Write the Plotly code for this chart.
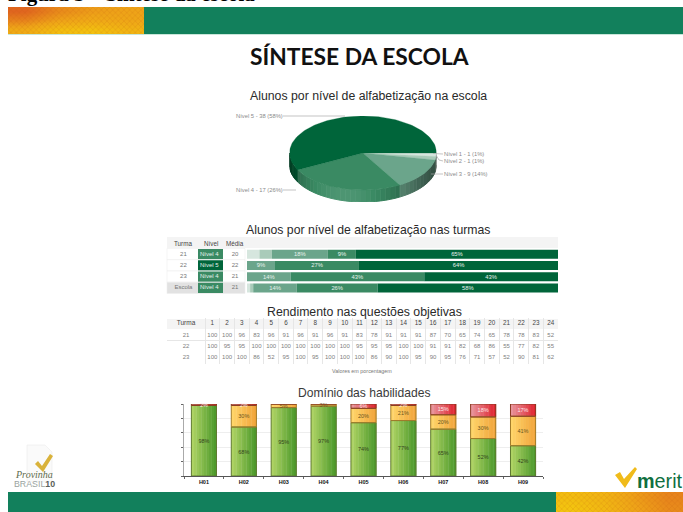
import math
import plotly.graph_objects as go

W, H = 683, 512

# ---- data ----
pie_labels = ["Nível 1", "Nível 2", "Nível 3", "Nível 4", "Nível 5"]
pie_values = [1, 1, 9, 17, 38]
pie_percent = [1, 1, 14, 26, 58]
level_colors = ["#d6e6de", "#a9cbb9", "#6ba58b", "#3a8a63", "#00653a"]

class_rows = ["21", "22", "23", "Escola"]
class_level = ["Nível 4", "Nível 5", "Nível 4", "Nível 4"]
class_mean = ["20", "22", "21", "21"]
class_headers = ["Turma", "Nível", "Média"]
level1_pct = [4, 0, 0, 1]
level2_pct = [4, 0, 0, 1]
level3_pct = [18, 9, 14, 14]
level4_pct = [9, 27, 43, 26]
level5_pct = [65, 64, 43, 58]

question_numbers = list(range(1, 25))
score_turmas = ["21", "22", "23"]
scores_21 = [100, 100, 96, 83, 96, 91, 96, 91, 96, 91, 83, 78, 91, 91, 91, 87, 70, 65, 74, 65, 78, 78, 83, 52]
scores_22 = [100, 95, 95, 100, 100, 100, 100, 100, 100, 100, 95, 95, 95, 100, 100, 91, 91, 82, 68, 86, 55, 77, 82, 55]
scores_23 = [100, 100, 100, 86, 52, 95, 100, 95, 100, 100, 100, 86, 90, 100, 95, 90, 95, 76, 71, 57, 52, 90, 81, 62]

skills = ["H01", "H02", "H03", "H04", "H05", "H06", "H07", "H08", "H09"]
skill_green = [98, 68, 95, 97, 74, 77, 65, 52, 42]
skill_orange = [0, 30, 5, 3, 20, 21, 20, 30, 41]
skill_red = [2, 2, 0, 0, 6, 2, 15, 18, 17]

top_patch_shade = [[0.0, 0.3, 0.45, 0.5], [0.25, 0.5, 0.6, 0.55], [0.6, 0.9, 0.95, 0.75]]
bottom_patch_shade = [[0.9, 0.75, 0.45, 0.25], [1.0, 0.8, 0.5, 0.3]]


# ---- helpers ----
def X(px):
    return px / W


def Y(py):
    return 1 - py / H


def hex_rgb(c):
    return tuple(int(c[i:i + 2], 16) for i in (1, 3, 5))


def shade(c, f):
    r = hex_rgb(c)
    if f <= 1:
        v = [int(k * f) for k in r]
    else:
        v = [int(k + (255 - k) * (f - 1)) for k in r]
    return "rgb(%d,%d,%d)" % tuple(v)


def mix(a, b, t):
    ra, rb = hex_rgb(a), hex_rgb(b)
    return "rgb(%d,%d,%d)" % tuple(int(p + (q - p) * t) for p, q in zip(ra, rb))


fig = go.Figure()
shapes, notes = [], []


def rect(x0, y0, x1, y1, fill, line=None):
    shapes.append(dict(type="rect", xref="paper", yref="paper", x0=X(x0), x1=X(x1), y0=Y(y0), y1=Y(y1),
                       fillcolor=fill, line=dict(width=0.6 if line else 0, color=line or fill), layer="below"))


def poly(points, fill, line_width=0, line=None):
    d = "M " + " L ".join("%.5f,%.5f" % (X(a), Y(b)) for a, b in points) + " Z"
    shapes.append(dict(type="path", xref="paper", yref="paper", path=d, fillcolor=fill,
                       line=dict(width=line_width, color=line or fill), layer="below"))


def seg(x0, y0, x1, y1, color="#aaaaaa"):
    shapes.append(dict(type="line", xref="paper", yref="paper", x0=X(x0), x1=X(x1), y0=Y(y0), y1=Y(y1),
                       line=dict(width=0.7, color=color), layer="above"))


def note(px, py, text, size, color="#333333", family="Liberation Sans", anchor="center", vanchor="middle"):
    notes.append(dict(x=X(px), y=Y(py), xref="paper", yref="paper", text=text, showarrow=False,
                      font=dict(size=size, color=color, family=family), xanchor=anchor, yanchor=vanchor,
                      borderpad=0, borderwidth=0))


# ---- bands ----
rect(8, 7, 683, 34, "#12805c")
rect(8, 34, 683, 35, "#c9e6da")
rect(8, 492, 683, 512, "#12805c")
patch_scale = [[0, "#e0651f"], [0.5, "#eea318"], [1, "#f3c40f"]]
for z, xa, ya in [(top_patch_shade, "x4", "y4"), (bottom_patch_shade, "x5", "y5")]:
    fig.add_trace(go.Heatmap(z=z, xaxis=xa, yaxis=ya, colorscale=patch_scale, zmin=0, zmax=1,
                             zsmooth="best", showscale=False, hoverinfo="skip"))
    fig.add_trace(go.Bar(x=[1.5], y=[len(z)], base=[-0.5], width=[4], xaxis=xa, yaxis=ya, hoverinfo="skip",
                         marker=dict(color="rgba(0,0,0,0)", line_width=0,
                                     pattern=dict(shape="x", size=4, solidity=0.25,
                                                  fgcolor="rgba(190,90,10,0.55)", bgcolor="rgba(0,0,0,0)"))))

# ---- pie (tilted, so drawn as ellipse wedges from the values) ----
depth = 12 / 37
total = sum(pie_values)
edges = [0]
for v in pie_values:
    edges.append(edges[-1] + v / total * 360)


def arc(t0, t1):
    n = max(2, int(abs(t1 - t0) / 2) + 2)
    return [t0 + (t1 - t0) * i / (n - 1) for i in range(n)]


for i, c in enumerate(level_colors):
    a, b = edges[i], min(edges[i + 1], 180)
    t = a
    while t < b:
        e = min(t + 4, b)
        f = 0.5 + 0.6 * max(0, math.cos(math.radians((t + e) / 2 - 105))) ** 2
        xs = [math.cos(math.radians(q)) for q in arc(t, e)]
        ys = [-math.sin(math.radians(q)) for q in arc(t, e)]
        col = shade(c, f)
        fig.add_trace(go.Scatter(x=xs + xs[::-1], y=ys + [q - depth for q in ys[::-1]], mode="lines",
                                 fill="toself", fillcolor=col, line=dict(width=1, color=col),
                                 xaxis="x3", yaxis="y3", hoverinfo="skip"))
        t = e
for i, c in enumerate(level_colors):
    ts = arc(edges[i], edges[i + 1])
    xs = [0] + [math.cos(math.radians(q)) for q in ts] + [0]
    ys = [0] + [-math.sin(math.radians(q)) for q in ts] + [0]
    fig.add_trace(go.Scatter(x=xs, y=ys, mode="lines", fill="toself", fillcolor=c, line=dict(width=0.3, color=c),
                             xaxis="x3", yaxis="y3", name=pie_labels[i], hoverinfo="skip"))

label_pos = [(444, 154), (444, 161), (444, 174), (236, 190), (236, 116)]
for name, v, p, (lx, ly) in zip(pie_labels, pie_values, pie_percent, label_pos):
    note(lx, ly, "%s - %d (%d%%)" % (name, v, p), 5.8, "#8a8a8a", anchor="left")
seg(433, 153.5, 443, 154)
seg(436, 155, 439, 160)
seg(439, 160, 443, 161)
seg(431, 174, 443, 174)
seg(283, 190, 296, 190)
seg(283, 116, 345, 116)

# ---- class table ----
rect(167, 237, 558, 248, "#f4f4f4")
row_top, row_h = 248.5, 11.25
for i, lvl in enumerate(class_level):
    y0 = row_top + i * row_h
    is_school = class_rows[i] == "Escola"
    rect(167, y0, 245, y0 + row_h, "#e2e2e2" if is_school else "#ffffff", "#eeeeee")
    rect(198, y0 + 0.5, 223, y0 + row_h - 0.5, level_colors[int(lvl[-1]) - 1])
for name, px in zip(class_headers, [183, 210.5, 235]):
    note(px, 243, name, 6.3, "#444444")
text_grey = "#777777"
for col, vals, colr in [(class_headers[0], class_rows, text_grey), (class_headers[1], class_level, "#e6f1eb"),
                        (class_headers[2], class_mean, text_grey)]:
    fig.add_trace(go.Scatter(x=[col] * 4, y=class_rows, text=vals, mode="text", xaxis="x6", yaxis="y6",
                             textfont=dict(size=6, color=colr, family="Liberation Sans"),
                             textposition="middle center", hoverinfo="skip", cliponaxis=False))
for name, vals, c in zip(pie_labels, [level1_pct, level2_pct, level3_pct, level4_pct, level5_pct], level_colors):
    fig.add_trace(go.Bar(y=class_rows, x=vals, orientation="h", name=name, marker=dict(color=c, line_width=0),
                         text=["%d%%" % v if v >= 9 else "" for v in vals], textposition="inside",
                         insidetextanchor="middle", textangle=0, constraintext="none",
                         textfont=dict(size=5.8, color="#e8f2ec", family="Liberation Sans"),
                         xaxis="x", yaxis="y", hoverinfo="skip"))

# ---- scores table ----
rect(167, 319, 558, 329, "#f4f4f4")
score_head = "Turma"
fig.add_trace(go.Scatter(x=question_numbers, y=[score_head] * 24, text=[str(q) for q in question_numbers],
                         mode="text", xaxis="x7", yaxis="y7", hoverinfo="skip", cliponaxis=False,
                         textfont=dict(size=6.3, color="#444444", family="Liberation Sans")))
fig.add_trace(go.Scatter(x=[0.5 - 19 / 14.7], y=[score_head], text=[score_head], mode="text", xaxis="x7",
                         yaxis="y7", hoverinfo="skip", cliponaxis=False,
                         textfont=dict(size=6.5, color="#444444", family="Liberation Sans")))
for turma, vals in zip(score_turmas, [scores_21, scores_22, scores_23]):
    fig.add_trace(go.Scatter(x=[0.5 - 19 / 14.7] + question_numbers, y=[turma] * 25,
                             text=[turma] + [str(v) for v in vals], mode="text", xaxis="x7", yaxis="y7",
                             hoverinfo="skip", cliponaxis=False,
                             textfont=dict(size=6, color="#808080", family="Liberation Sans")))
note(362, 371, "Valores em porcentagem", 5.4, "#777777")

# ---- skills chart ----
bar_w = 0.63
strips = 10
series = [
    (skill_green, [0] * 9, "#aed364", "#4e9a2c", "#5f7a30", "#33421c"),
    (skill_orange, skill_green, "#ffd56a", "#f2a63c", "#a27c2a", "#6a5520"),
    (skill_red, [g + o for g, o in zip(skill_green, skill_orange)], "#e8939a", "#df2430", "#8a3a22", "#ffe8e8"),
]
for vals, base, left, right, edge, txt in series:
    for i in range(strips):
        fig.add_trace(go.Bar(x=skills, y=vals, base=base, width=bar_w / strips * 1.15,
                             offset=-bar_w / 2 + i * bar_w / strips,
                             marker=dict(color=mix(left, right, i / (strips - 1)), line_width=0),
                             xaxis="x2", yaxis="y2", hoverinfo="skip"))
for vals, base, left, right, edge, txt in series:
    fig.add_trace(go.Bar(x=skills, y=vals, base=base, width=bar_w, offset=-bar_w / 2,
                         marker=dict(color="rgba(0,0,0,0)", line=dict(color=edge, width=1)),
                         text=["%d%%" % v if v else "" for v in vals], textposition="inside",
                         insidetextanchor="middle", textangle=0, constraintext="none", cliponaxis=False,
                         textfont=dict(size=5.5, color=txt, family="Liberation Sans"),
                         xaxis="x2", yaxis="y2", hoverinfo="skip"))

# ---- titles ----
note(359.5, 56, "<b>SÍNTESE DA ESCOLA</b>", 22.8, "#111111", "Lato")
note(368.5, 96, "Alunos por nível de alfabetização na escola", 12.3, "#2a2a2a")
note(368, 230, "Alunos por nível de alfabetização nas turmas", 12.25, "#2a2a2a")
note(364.5, 312, "Rendimento nas questões objetivas", 12.3, "#2a2a2a")
note(364, 393, "Domínio das habilidades", 12.1, "#3a3a3a")
note(8, 6.5, "<b>Figura 5 – Síntese da escola</b>", 21, "#000000", "Liberation Serif", "left", "bottom")

# ---- logos ----
poly([(27, 445), (45, 445), (52, 452), (52, 482), (27, 482)], "#fafafa", 0.6, "#ececec")
poly([(35, 464), (38, 461), (42, 466), (50, 454), (53, 456), (43, 472)], "#d9b23a")
note(33.5, 474, "<i>Provinha</i>", 10, "#5f6d4c", "Liberation Serif")
note(34, 483.5, "BRASIL<b style='color:#5a5f5a'>10</b>", 8.8, "#9aa3a0")
poly([(615, 475), (620, 472), (624, 479), (635, 467), (637, 469), (625, 488)], "#f0bb1a")
note(637, 481, "<b>m</b>erit", 19.8, "#0f6f40", "Liberation Sans", "left")

axis_off = dict(visible=False, fixedrange=True)
grid_col = "#e6e6e6"
fig.update_layout(
    width=W, height=H, margin=dict(l=0, r=0, t=0, b=0, pad=0), autosize=False,
    paper_bgcolor="#ffffff", plot_bgcolor="rgba(0,0,0,0)", showlegend=False, hovermode=False,
    barmode="overlay", bargap=0.2, shapes=shapes, annotations=notes,
    xaxis=dict(domain=[X(247), X(558)], range=[0, 100], anchor="y", **axis_off),
    yaxis=dict(domain=[Y(293.5), Y(248.5)], autorange="reversed", type="category", anchor="x", **axis_off),
    xaxis2=dict(domain=[X(184), X(543)], anchor="y2", type="category", tickson="boundaries", ticks="outside",
                ticklen=2, tickcolor="#666666", linecolor="#555555", linewidth=1, showline=True, showgrid=False,
                tickfont=dict(size=5.5, color="#111111", family="Liberation Sans"), fixedrange=True,
                tickprefix="<b>", ticksuffix="</b>", tickangle=0),
    yaxis2=dict(domain=[Y(476), Y(404)], range=[0, 100], anchor="x2", tickvals=[0, 20, 40, 60, 80, 100],
                showticklabels=False, ticks="outside", ticklen=2, tickcolor="#666666", showline=True,
                linecolor="#aaaaaa", gridcolor="#eeeeee", zeroline=False, fixedrange=True),
    xaxis3=dict(domain=[X(289.5), X(436.5)], range=[-1, 1], anchor="y3", **axis_off),
    yaxis3=dict(domain=[Y(202), Y(116)], range=[-1 - depth, 1], anchor="x3", **axis_off),
    xaxis4=dict(domain=[X(8), X(144)], range=[-0.5, 3.5], anchor="y4", **axis_off),
    yaxis4=dict(domain=[Y(34), Y(7)], range=[2.5, -0.5], anchor="x4", **axis_off),
    xaxis5=dict(domain=[X(556), 1], range=[-0.5, 3.5], anchor="y5", **axis_off),
    yaxis5=dict(domain=[0, Y(492)], range=[1.5, -0.5], anchor="x5", **axis_off),
    xaxis6=dict(domain=[X(170.5), X(248)], type="category", categoryorder="array", categoryarray=class_headers,
                range=[-0.5, 2.5], anchor="y6", **axis_off),
    yaxis6=dict(domain=[Y(293.5), Y(248.5)], type="category", categoryorder="array",
                categoryarray=class_rows, range=[3.5, -0.5], anchor="x6", **axis_off),
    xaxis7=dict(domain=[X(167), X(558)], range=[0.5 - 38 / 14.7, 24.5], anchor="y7", showline=False, zeroline=False,
                tickvals=[0.5 + i for i in range(25)], showticklabels=False, ticks="", gridcolor=grid_col,
                fixedrange=True),
    yaxis7=dict(domain=[Y(363.5), Y(318)], type="category", categoryorder="array",
                categoryarray=[score_head] + score_turmas, range=[3.5, -0.5], anchor="x7",
                tickson="boundaries", showticklabels=False, ticks="", gridcolor=grid_col, showline=False,
                zeroline=False, fixedrange=True),
)
# the chart shares one barmode with the overlaid skills bars; class bars stack through explicit bases
cum = [0, 0, 0, 0]
for tr in fig.data:
    if isinstance(tr, go.Bar) and tr.xaxis == "x":
        tr.base = list(cum)
        cum = [c + v for c, v in zip(cum, tr.x)]

fig.write_html("out.html", config=dict(displayModeBar=False, staticPlot=True),
               post_script="document.body.style.margin='0';")
